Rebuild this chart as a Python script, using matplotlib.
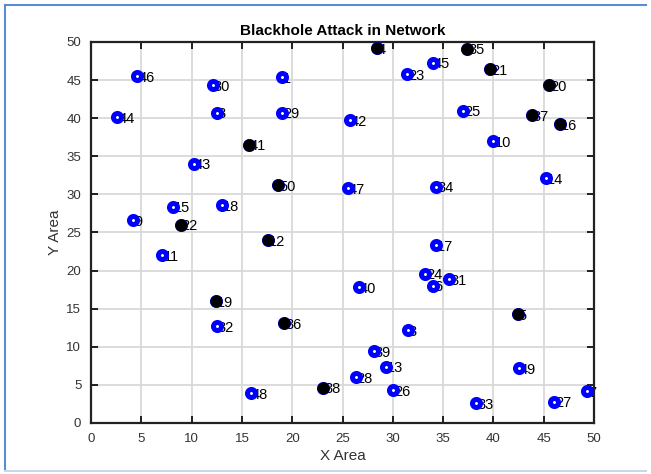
import matplotlib.pyplot as plt
from matplotlib.lines import Line2D

plt.rcParams['font.family'] = ['Liberation Sans', 'DejaVu Sans']

# node positions in the 50 x 50 area
node_id = [1, 3, 4, 5, 6, 7, 8, 9, 10, 11, 12, 13, 14, 15, 16, 17, 18, 19, 20,
           21, 22, 23, 24, 25, 26, 27, 28, 29, 30, 31, 32, 33, 34, 35, 36, 37,
           38, 39, 40, 41, 42, 43, 44, 45, 46, 47, 48, 49, 50]
node_x = [18.95, 31.5, 28.4, 42.4, 34.0, 49.3, 12.5, 4.2, 40.0, 7.1, 17.6, 29.3,
          45.2, 8.1, 46.6, 34.3, 13.0, 12.4, 45.5, 39.7, 8.9, 31.4, 33.2, 37.0,
          30.0, 46.0, 26.3, 19.0, 12.1, 35.6, 12.5, 38.3, 34.3, 37.4, 19.2, 43.8,
          23.1, 28.1, 26.6, 15.7, 25.7, 10.2, 2.6, 34.0, 4.6, 25.5, 15.9, 42.5,
          18.6]
node_y = [45.4, 12.2, 49.2, 14.3, 18.0, 4.2, 40.7, 26.6, 37.0, 22.0, 24.0, 7.4,
          32.1, 28.4, 39.2, 23.3, 28.6, 16.0, 44.3, 46.4, 26.0, 45.8, 19.6, 41.0,
          4.3, 2.8, 6.0, 40.7, 44.3, 18.9, 12.7, 2.6, 31.0, 49.1, 13.1, 40.4,
          4.6, 9.4, 17.8, 36.5, 39.7, 34.0, 40.1, 47.3, 45.5, 30.8, 3.9, 7.2,
          31.2]

# malicious (blackhole) nodes
blackhole = [4, 5, 12, 16, 19, 20, 21, 22, 35, 36, 37, 38, 41, 50]

fig = plt.figure(figsize=(6.51, 4.74), dpi=100)
ax = fig.add_axes([0.1398, 0.1076, 0.7727, 0.8038])

# node ids first, markers drawn over them
for n, x, y in zip(node_id, node_x, node_y):
    ax.text(x + 0.1, y - 0.2, str(n), fontsize=10.5, va='center', ha='left',
            color='black', zorder=2)

ax.plot(node_x, node_y, 'o', color='blue', markerfacecolor='white',
        markersize=5.8, markeredgewidth=3.6, linestyle='none', zorder=3)

bx = [node_x[node_id.index(n)] for n in blackhole]
by = [node_y[node_id.index(n)] for n in blackhole]
ax.plot(bx, by, 'o', color='black', markersize=8.8, markeredgewidth=0,
        linestyle='none', zorder=4)

ax.set_xlim(0, 50)
ax.set_ylim(0, 50)
ax.set_xticks(range(0, 51, 5))
ax.set_yticks(range(0, 51, 5))
ax.grid(True, color='#d9d9d9', linewidth=1.3)
ax.set_axisbelow(True)
ax.tick_params(direction='in', top=True, right=True, length=5, width=1.2,
               labelsize=9.5, labelcolor='#333333', pad=7)
for s in ax.spines.values():
    s.set_linewidth(1.6)
    s.set_color('#222222')

ax.set_title('Blackhole Attack in Network', fontsize=11, fontweight='bold', pad=5)
ax.set_xlabel('X Area', fontsize=11, color='#333333', labelpad=3)
ax.set_ylabel('Y Area', fontsize=11, color='#333333', labelpad=3)

# frame around the picture
fig.add_artist(Line2D([5 / 651, 5 / 651], [5 / 474, 469 / 474], color='#5b8bd0',
                      linewidth=1.5, transform=fig.transFigure))
fig.add_artist(Line2D([5 / 651, 646 / 651], [469 / 474, 469 / 474], color='#5b8bd0',
                      linewidth=1.5, transform=fig.transFigure))
fig.add_artist(Line2D([5 / 651, 646 / 651], [3 / 474, 3 / 474], color='#c8d8ec',
                      linewidth=1.5, transform=fig.transFigure))

fig.savefig('out.png', dpi=100)
